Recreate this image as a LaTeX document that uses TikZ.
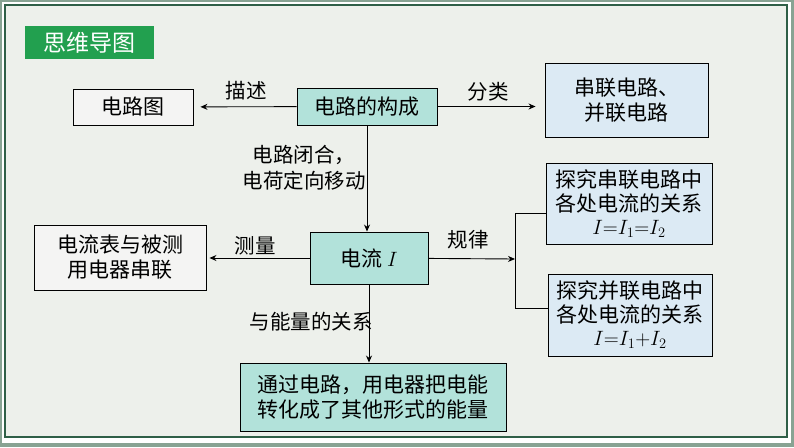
\documentclass[tikz,border=0pt]{standalone}
\usepackage{fontspec}
\setmainfont{Noto Sans CJK SC}
\usepackage{tikz}
\usetikzlibrary{arrows.meta, calc}

\definecolor{framegray}{HTML}{88A393}
\definecolor{framegreen}{HTML}{2F5F47}
\definecolor{paper}{HTML}{EDF0EB}
\definecolor{titlegreen}{HTML}{22A04F}
\definecolor{teal}{HTML}{B2E2DA}
\definecolor{paleblue}{HTML}{DCEAF4}
\definecolor{plain}{HTML}{F4F4F3}

\begin{document}
\begin{tikzpicture}[x = 1pt, y = -1pt,
    box/.style = {draw, line width = 0.9pt, inner sep = 0pt, align = center, font = \fontsize{21}{25}\selectfont},
    tag/.style = {inner sep = 0pt, align = center, font = \fontsize{20.5}{26}\selectfont},
    link/.style = {line width = 0.9pt, -{Stealth[length = 7pt, width = 6pt]}}
]
    \useasboundingbox (0,0) rectangle (794,447);

    % frame
    \fill [framegray] (0,0) rectangle (794,447);
    \fill [white] (2,2) rectangle (791,443);
    \draw [framegreen, line width = 1.6pt, fill = paper] (5,5) rectangle (787,437);

    \node (title) [fill = titlegreen, text = white, minimum width = 129pt, minimum height = 33pt, inner sep = 0pt, font = \fontsize{23}{26}\selectfont] at (89.5,42.5) {思维导图};

    % boxes
    \node (map) [box, fill = plain, minimum width = 120pt, minimum height = 36pt] at (133,107) {电路图};
    \node (build) [box, fill = teal, minimum width = 140pt, minimum height = 37pt] at (367,106.5) {电路的构成};
    \node (kinds) [box, fill = paleblue, minimum width = 163pt, minimum height = 74pt] at (626.5,100) {串联电路、\\并联电路};
    \node (current) [box, fill = teal, minimum width = 118pt, minimum height = 52pt] at (369,258) {电流 \(I\)};
    \node (meter) [box, fill = plain, minimum width = 172pt, minimum height = 65pt] at (120,257.5) {电流表与被测\\用电器串联};
    \node (series) [box, fill = paleblue, minimum width = 166pt, minimum height = 81pt, font = \fontsize{21}{23.5}\selectfont] at (629,204) {探究串联电路中\\各处电流的关系\\\(I{=}I_1{=}I_2\)};
    \node (parallel) [box, fill = paleblue, minimum width = 164pt, minimum height = 82pt, font = \fontsize{21}{23.5}\selectfont] at (630,315) {探究并联电路中\\各处电流的关系\\\(I{=}I_1{+}I_2\)};
    \node (energy) [box, fill = teal, minimum width = 266pt, minimum height = 68pt] at (373,397) {通过电路，用电器把电能\\转化成了其他形式的能量};

    % connectors
    \coordinate (fork) at (515,259);
    \coordinate (forktop) at (515,213);
    \coordinate (forkbot) at (515,308);

    \draw [link, shorten > = 7pt] (build) -- (map);
    \draw [link, shorten > = 9pt] (build) -- (build -| kinds.west);
    \draw [link] (build) -- (build |- current.north);
    \draw [link, shorten > = 3pt] (current) -- (current -| meter.east);
    \draw [link] (current) -- (fork);
    \draw [link] (current) -- (current |- energy.north);
    \draw [line width = 0.9pt] (series.west |- forktop) -- (forktop) -- (forkbot) -- (parallel.west |- forkbot);

    % labels
    \node (describe) [tag] at (246,91) {描述};
    \node (classify) [tag] at (488,92) {分类};
    \node (closed) [tag] at (304,168) {电路闭合，\\电荷定向移动};
    \node (measure) [tag] at (255,246) {测量};
    \node (rule) [tag] at (468,240) {规律};
    \node (relation) [tag] at (311,322) {与能量的关系};
\end{tikzpicture}
\end{document}
